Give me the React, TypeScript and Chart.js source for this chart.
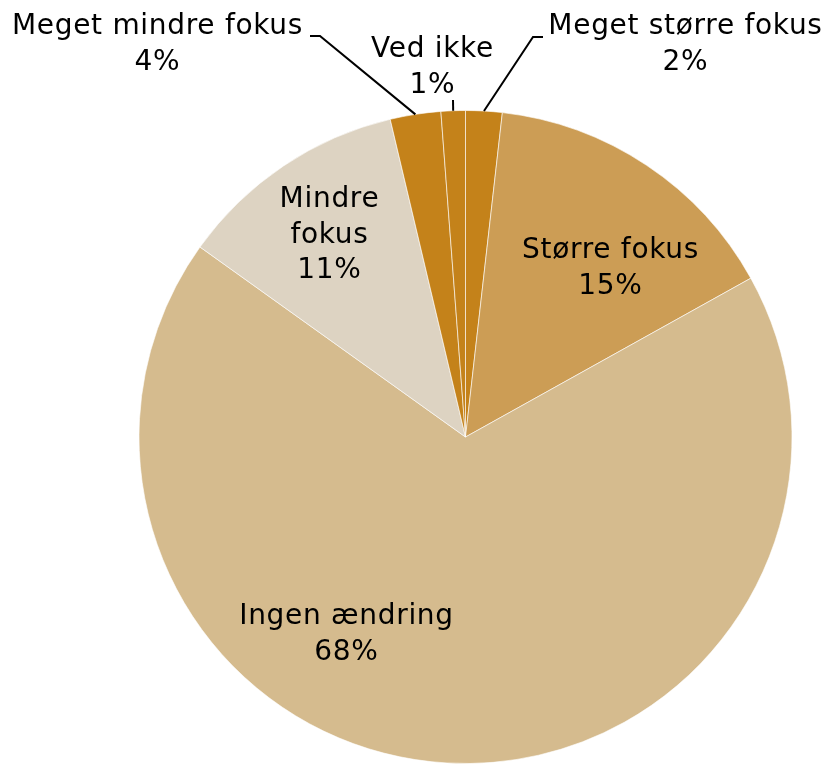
import React, { useEffect, useRef } from "react";
import { Chart, registerables } from "chart.js";

Chart.register(...registerables);

const categories = [
  "Meget større fokus",
  "Større fokus",
  "Ingen ændring",
  "Mindre fokus",
  "Meget mindre fokus",
  "Ved ikke",
];
const values = [1.8, 15.1, 67.9, 11.4, 2.5, 1.2];
const percentLabels = ["2%", "15%", "68%", "11%", "4%", "1%"];
const labelLines = [
  ["Meget større fokus"],
  ["Større fokus"],
  ["Ingen ændring"],
  ["Mindre", "fokus"],
  ["Meget mindre fokus"],
  ["Ved ikke"],
];
const colors = ["#C4821A", "#CC9D55", "#D5BB8E", "#DDD3C2", "#C4821A", "#C4821A"];

// label layout (offsets from pie centre, in px) and leader lines
const labelPos = [
  { dx: 220, dy: -410 },
  { dx: 145, dy: -186 },
  { dx: -119, dy: 180 },
  { dx: -136, dy: -237 },
  { dx: -308, dy: -410 },
  { dx: -33, dy: -387 },
];
const leaders: (null | { elbow: [number, number]; end: [number, number] })[] = [
  { elbow: [67.5, -400], end: [77.5, -400] },
  null,
  null,
  null,
  { elbow: [-145.5, -401], end: [-155.5, -401] },
  { elbow: [-12.5, -337], end: [-12.5, -337] },
];

const labelPlugin = {
  id: "pieLabels",
  afterDatasetsDraw(chart: any) {
    const ctx = chart.ctx;
    const meta = chart.getDatasetMeta(0);
    ctx.save();
    meta.data.forEach((arc: any, i: number) => {
      const { x, y, outerRadius, startAngle, endAngle } = arc.getProps(
        ["x", "y", "outerRadius", "startAngle", "endAngle"],
        true
      );
      const mid = (startAngle + endAngle) / 2;
      const ld = leaders[i];
      if (ld) {
        const sx = x + Math.cos(mid) * outerRadius;
        const sy = y + Math.sin(mid) * outerRadius;
        ctx.beginPath();
        ctx.strokeStyle = "#000";
        ctx.lineWidth = 2;
        ctx.moveTo(sx, sy);
        ctx.lineTo(x + ld.elbow[0], y + ld.elbow[1]);
        ctx.lineTo(x + ld.end[0], y + ld.end[1]);
        ctx.stroke();
      }
      const lines = [...labelLines[i], percentLabels[i]];
      const lh = 35.5;
      const cx = x + labelPos[i].dx;
      const top = y + labelPos[i].dy;
      ctx.fillStyle = "#000";
      ctx.font = '28px "DejaVu Sans"';
      try {
        ctx.letterSpacing = "0.7px";
      } catch (e) {}
      ctx.textAlign = "center";
      ctx.textBaseline = "middle";
      lines.forEach((t, k) => {
        ctx.fillText(t, cx, top + k * lh);
      });
    });
    ctx.restore();
  },
};

export default function App() {
  const ref = useRef<HTMLCanvasElement | null>(null);
  useEffect(() => {
    document.body.style.margin = "0";
    const chart = new Chart(ref.current!, {
      type: "pie",
      data: {
        labels: categories,
        datasets: [
          {
            data: values,
            backgroundColor: colors,
            borderColor: "rgba(255,255,255,0.6)",
            borderWidth: 1,
          },
        ],
      },
      options: {
        responsive: false,
        animation: false,
        layout: { padding: { left: 138, right: 34, top: 110, bottom: 36 } },
        plugins: {
          legend: { display: false },
          tooltip: { enabled: false },
        },
      },
      plugins: [labelPlugin],
    });
    return () => chart.destroy();
  }, []);
  return (
    <div style={{ position: "fixed", left: 0, top: 0 }}>
      <canvas ref={ref} width={827} height={800} style={{ display: "block" }} />
    </div>
  );
}
